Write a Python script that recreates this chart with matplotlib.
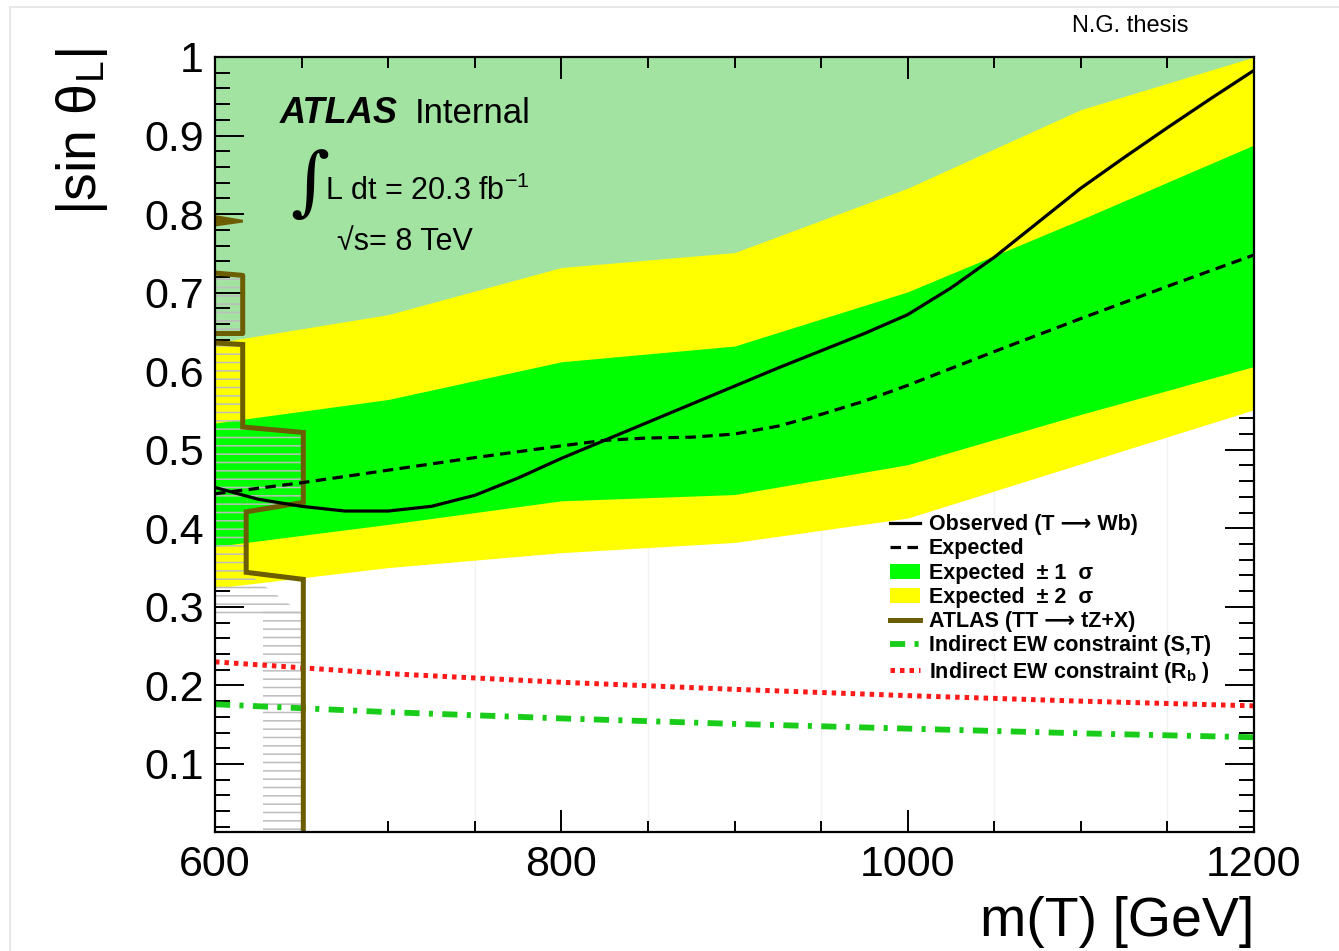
import matplotlib.pyplot as plt
from matplotlib.lines import Line2D
from matplotlib.patches import Patch
from matplotlib.ticker import MultipleLocator, FixedLocator, FixedFormatter

plt.rcParams['font.family'] = ['Liberation Sans', 'DejaVu Sans']
plt.rcParams['mathtext.fontset'] = 'custom'
plt.rcParams['mathtext.rm'] = 'Liberation Sans'
plt.rcParams['mathtext.it'] = 'Liberation Sans:italic'
plt.rcParams['mathtext.bf'] = 'Liberation Sans:bold'
plt.rcParams['hatch.linewidth'] = 1.1

# --- expected limit bands (every 100 GeV) ---
mass = [600, 700, 800, 900, 1000, 1100, 1200]
exp_m2 = [0.324, 0.350, 0.369, 0.382, 0.413, 0.482, 0.551]
exp_m1 = [0.377, 0.405, 0.435, 0.443, 0.481, 0.545, 0.606]
exp_p1 = [0.534, 0.564, 0.612, 0.632, 0.701, 0.793, 0.888]
exp_p2 = [0.636, 0.672, 0.732, 0.751, 0.833, 0.933, 1.000]

# --- expected / observed limits ---
mass_exp = [600, 650, 700, 750, 800, 825, 850, 875, 900, 925, 950, 975, 1000,
            1050, 1100, 1150, 1200]
expected = [0.444, 0.458, 0.474, 0.490, 0.505, 0.512, 0.515, 0.516, 0.520, 0.530, 0.545,
            0.562, 0.582, 0.625, 0.667, 0.708, 0.748]

mass_obs = [600, 625, 650, 675, 700, 725, 750, 775, 800, 825, 850, 875, 900, 925, 950,
            975, 1000, 1025, 1050, 1075, 1100, 1125, 1150, 1175, 1200]
observed = [0.452, 0.437, 0.428, 0.422, 0.422, 0.428, 0.442, 0.464, 0.489, 0.512, 0.535,
            0.558, 0.581, 0.604, 0.626, 0.648, 0.672, 0.706, 0.745, 0.789, 0.833, 0.872,
            0.910, 0.947, 0.983]

# --- indirect electroweak constraints ---
mass_ew = [600, 700, 800, 900, 1000, 1100, 1200]
ew_st = [0.176, 0.166, 0.158, 0.151, 0.145, 0.139, 0.134]
ew_rb = [0.230, 0.215, 0.204, 0.195, 0.187, 0.180, 0.174]

# --- ATLAS TT -> tZ+X exclusion contour pieces ---
tz_main_m = [600, 616, 616, 651, 651, 618, 618, 651, 651]
tz_main_s = [0.636, 0.634, 0.529, 0.522, 0.433, 0.421, 0.344, 0.335, 0.0134]
tz_box_m = [600, 616, 616, 600]
tz_box_s = [0.725, 0.722, 0.648, 0.648]
tz_blob_m = [600, 616, 600]
tz_blob_s = [0.797, 0.791, 0.786]

YMIN = 0.0134
olive = '#6b5d00'

fig = plt.figure(figsize=(13.39, 9.51), dpi=100)
ax = fig.add_axes([215 / 1339, 1 - 832 / 951, (1254 - 215) / 1339, (832 - 57) / 951])

# excluded region above the observed limit
ax.fill_between(mass_obs, observed, 1.0, color='#a2e3a2', lw=0, zorder=1)

# faint vertical guides
for m in [750, 850, 950, 1050, 1150]:
    ax.axvline(m, color='#f2f2f2', lw=1, zorder=0.5)

ax.fill_between(mass, exp_m2, exp_p2, color='#ffff00', lw=0, zorder=2)
ax.fill_between(mass, exp_m1, exp_p1, color='#00ff00', lw=0, zorder=3)

# hatched interior of the tZ+X exclusion
ax.fill_betweenx([0.29, 0.344, 0.421, 0.433, 0.522, 0.529, 0.634],
                 600, [651, 618, 618, 651, 651, 616, 616],
                 facecolor='none', edgecolor='#bdbdbd', hatch='--', lw=0, zorder=4)
ax.fill_betweenx([YMIN, 0.30], 628, 651,
                 facecolor='none', edgecolor='#bdbdbd', hatch='--', lw=0, zorder=4)
ax.fill_betweenx([0.648, 0.725], 600, 616,
                 facecolor='none', edgecolor='#bdbdbd', hatch='--', lw=0, zorder=4)

ax.plot(mass_ew, ew_rb, color='#ff1a1a', lw=3.6, ls=(0, (0.9, 1.0)), zorder=5)
ax.plot(mass_ew, ew_st, color='#19cc19', lw=4.2, ls=(0, (2.6, 1.6, 0.7, 1.6)), zorder=5)

ax.plot(tz_main_m, tz_main_s, color=olive, lw=3.6, zorder=6, solid_joinstyle='miter')
ax.plot(tz_box_m, tz_box_s, color=olive, lw=3.6, zorder=6)
ax.fill(tz_blob_m, tz_blob_s, color=olive, lw=2, zorder=6)

ax.plot(mass_exp, expected, color='black', lw=2.3, ls=(0, (3.3, 2.0)), zorder=7)
ax.plot(mass_obs, observed, color='black', lw=2.3, zorder=8)

ax.set_xlim(600, 1200)
ax.set_ylim(YMIN, 1.0)

ax.xaxis.set_major_locator(MultipleLocator(200))
ax.xaxis.set_minor_locator(MultipleLocator(50))
yt = [0.1, 0.2, 0.3, 0.4, 0.5, 0.6, 0.7, 0.8, 0.9, 1.0]
ax.yaxis.set_major_locator(FixedLocator(yt))
ax.yaxis.set_major_formatter(FixedFormatter(['0.1', '0.2', '0.3', '0.4', '0.5', '0.6', '0.7', '0.8', '0.9', '1']))
ax.yaxis.set_minor_locator(MultipleLocator(0.02))

ax.tick_params(axis='both', which='both', direction='in', top=True, right=True, width=1.4, labelsize=31)
ax.tick_params(axis='x', which='major', length=16, pad=9)
ax.tick_params(axis='x', which='minor', length=8)
ax.tick_params(axis='y', which='major', length=21, pad=8)
ax.tick_params(axis='y', which='minor', length=11)
for sp in ax.spines.values():
    sp.set_linewidth(1.6)
    sp.set_zorder(10)

fig.text(1254 / 1339, 1 - 922 / 951, 'm(T) [GeV]', ha='right', va='center', fontsize=40)
fig.text(82 / 1339, 1 - 48 / 951, r'|sin $\mathregular{\theta_{L}}$|', rotation=90,
         ha='center', va='top', fontsize=40)

# ATLAS label block
ax.text(0.062, 0.915, 'ATLAS', transform=ax.transAxes, fontsize=26,
        fontweight='bold', fontstyle='italic', va='baseline')
ax.text(0.192, 0.915, 'Internal', transform=ax.transAxes, fontsize=25, va='baseline')
ax.text(0.072, 0.834, '∫', transform=ax.transAxes, fontsize=54, family='DejaVu Serif',
        va='center')
ax.text(0.106, 0.815, r'L dt = 20.3 fb$^{-1}$', transform=ax.transAxes, fontsize=22,
        va='baseline')
ax.text(0.117, 0.751, '√s= 8 TeV', transform=ax.transAxes, fontsize=22, va='baseline')

fig.text(1130 / 1339, 1 - 26 / 951, 'N.G. thesis', ha='center', va='center', fontsize=17)

handles = [
    Line2D([], [], color='black', lw=2.3),
    Line2D([], [], color='black', lw=2.3, ls=(0, (3.3, 2.0))),
    Patch(facecolor='#00ff00', edgecolor='none'),
    Patch(facecolor='#ffff00', edgecolor='none'),
    Line2D([], [], color=olive, lw=3.6),
    Line2D([], [], color='#19cc19', lw=4.2, ls=(0, (2.6, 1.6, 0.7, 1.6))),
    Line2D([], [], color='#ff1a1a', lw=3.6, ls=(0, (0.9, 1.0))),
]
labels = [
    'Observed (T ⟶ Wb)',
    'Expected',
    'Expected  ± 1  σ',
    'Expected  ± 2  σ',
    'ATLAS (TT ⟶ tZ+X)',
    'Indirect EW constraint (S,T)',
    r'Indirect EW constraint (R$_{\mathbf{b}}$ )',
]
leg = ax.legend(handles, labels, loc='upper left', bbox_to_anchor=(0.65, 0.41),
                frameon=False, prop={'weight': 'bold', 'size': 15.5}, borderpad=0,
                borderaxespad=0, handlelength=1.4, handletextpad=0.4, labelspacing=0.15)
leg.set_zorder(11)

# light panel border
fig.add_artist(Line2D([10 / 1339, 1], [1 - 7 / 951, 1 - 7 / 951], color='#e8e8e8', lw=1.5))
fig.add_artist(Line2D([10 / 1339, 10 / 1339], [0, 1 - 7 / 951], color='#e8e8e8', lw=1.5))

fig.savefig('out.png', dpi=100)
